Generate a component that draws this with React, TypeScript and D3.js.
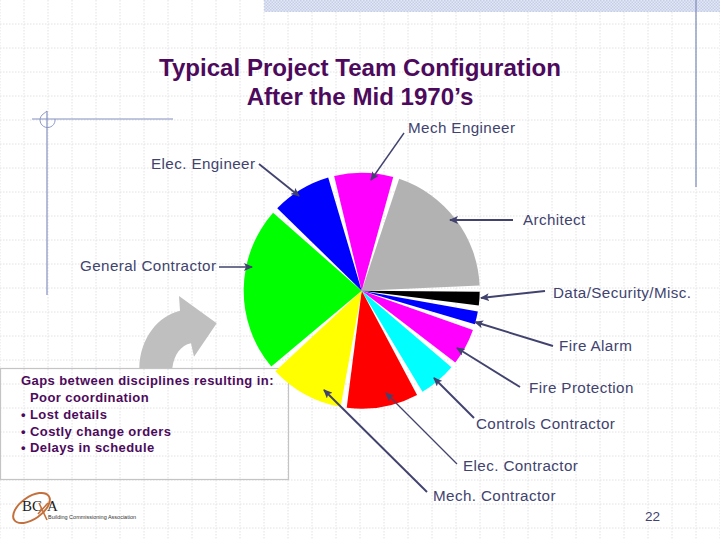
import React from "react";
import * as d3 from "d3";

// Pie data, clockwise from the grey slice (share of circle)
const sliceNames = ["Architect","Data/Security/Misc.","Fire Alarm","Fire Protection","Controls Contractor","Elec. Contractor","Mech. Contractor","General Contractor","Elec. Engineer","Mech Engineer"];
const sliceValues = [72, 9.7, 9.3, 21, 21.5, 38.3, 39.7, 84.3, 32.2, 32];
const sliceColors = ["#b2b2b2","#000000","#0000ff","#ff00ff","#00ffff","#ff0000","#ffff00","#00ff00","#0000ff","#ff00ff"];

const titleLines = ["Typical Project Team Configuration","After the Mid 1970\u2019s"];
const noteLines = ["Gaps between disciplines resulting in:","Poor coordination","Lost details","Costly change orders","Delays in schedule"];

// Callouts: label anchor, leader line from -> tip, leader width
const callouts: [string, number, number, number, number, number, number, number][] = [
  ["Mech Engineer", 408, 132.7, 404, 133, 371, 180, 1.4],
  ["Elec. Engineer", 151, 169, 259, 164, 299, 196, 1.9],
  ["Architect", 523, 224.7, 513, 220, 450, 220, 1.9],
  ["General Contractor", 80, 270.7, 219, 267, 252, 267, 1.3],
  ["Data/Security/Misc.", 553, 298, 545, 291, 481, 298, 1.9],
  ["Fire Alarm", 559, 350.8, 553, 346, 475, 322, 1.9],
  ["Fire Protection", 529, 392.7, 520, 387, 457, 348, 1.9],
  ["Controls Contractor", 476, 428.7, 474, 418, 434, 378, 1.9],
  ["Elec. Contractor", 463, 470.7, 457, 464, 386, 393, 1.3],
  ["Mech. Contractor", 433, 500.7, 427, 492, 324, 390, 1.9],
];

const W = 720, H = 540, CX = 361.7, CY = 290.7, R = 118;
const GAP = (3 * Math.PI) / 180;
const START = (17 * Math.PI) / 180;
const INK = "#41436e";
const PLUM = "#4d0a5c";
const SANS = "'Liberation Sans', Arial, sans-serif";

export default function App() {
  const pie = d3.pie<number>().sort(null).startAngle(START).endAngle(START + 2 * Math.PI)(sliceValues);
  const arc = d3.arc<{ startAngle: number; endAngle: number }>().innerRadius(0).outerRadius(R);
  const gridX = d3.range(0, W + 1, 24);
  const gridY = d3.range(24, H + 1, 24);
  return (
    <svg width={W} height={H} viewBox={`0 0 ${W} ${H}`} style={{ position: "absolute", left: 0, top: 0, background: "#fff" }}>
      <defs>
        <pattern id="hatch" width="3" height="3" patternUnits="userSpaceOnUse">
          <rect width="3" height="3" fill="#e4e8f4" />
          <rect width="1.5" height="1.5" fill="#c4cee8" />
          <rect x="1.5" y="1.5" width="1.5" height="1.5" fill="#c4cee8" />
        </pattern>
        <marker id="head" markerUnits="userSpaceOnUse" markerWidth="10" markerHeight="8" refX="8" refY="4" orient="auto" viewBox="0 0 10 8">
          <path d="M9,4 L0,0 L2,4 L0,8 Z" fill={INK} />
        </marker>
      </defs>
      <g stroke="#e2e2e2" strokeWidth={1} strokeDasharray="1.5 1.5">
        {gridX.map((x) => <line key={x} x1={x} x2={x} y1={0} y2={H} />)}
        {gridY.map((y) => <line key={y} x1={0} x2={W} y1={y} y2={y} />)}
      </g>
      <rect x={264} y={0} width={456} height={12} fill="url(#hatch)" />
      <g stroke="#8490c0" fill="none">
        <line x1={696} x2={696} y1={0} y2={187} strokeWidth={1.3} />
        <line x1={32} x2={173} y1={119} y2={119} strokeWidth={1.2} />
        <line x1={47} x2={47} y1={111} y2={295} strokeWidth={1.2} />
        <path d="M47,111 L42,115 A7.5,7.5 0 1 0 55,119" strokeWidth={0.9} />
      </g>

      <g fontFamily={SANS} fontWeight="bold" fontSize={24.1} fill={PLUM} textAnchor="middle">
        {titleLines.map((t, i) => <text key={t} x={360} y={76 + i * 28.5}>{t}</text>)}
      </g>

      <path d="M139.3,368 C140,338 158,316 180,310.7 L179,296 L216.7,323.3 L194,356.7 L191,343.3 C181,345 174,355 172.3,368 Z" fill="#bfbfbf" />
      <rect x={0.5} y={368.5} width={288} height={111} fill="none" stroke="#c4c4c4" strokeWidth={1.2} />

      <g transform={`translate(${CX},${CY})`}>
        {pie.map((d, i) => (
          <path key={sliceNames[i]} d={arc({ startAngle: d.startAngle + GAP / 2, endAngle: d.endAngle - GAP / 2 }) as string} fill={sliceColors[i]} />
        ))}
      </g>

      <g stroke={INK} fill="none">
        {callouts.map(([n, , , x1, y1, x2, y2, w]) => (
          <line key={n} x1={x1} y1={y1} x2={x2} y2={y2} strokeWidth={w} markerEnd="url(#head)" />
        ))}
      </g>
      <g fontFamily={SANS} fontSize={15.2} letterSpacing={0.4} fill={INK}>
        {callouts.map(([n, x, y]) => <text key={n} x={x} y={y}>{n}</text>)}
      </g>
      <text x={645} y={521} fontFamily={SANS} fontSize={13.5} fill={INK}>22</text>

      <g fontFamily={SANS} fontWeight="bold" fontSize={13} letterSpacing={0.42} fill={PLUM}>
        {noteLines.map((t, i) => {
          const y = [385, 402, 419, 436, 452][i];
          return (
            <g key={t}>
              {i >= 2 && <text x={21} y={y}>{"\u2022"}</text>}
              <text x={i === 0 ? 21 : 30} y={y}>{t}</text>
            </g>
          );
        })}
      </g>

      <ellipse cx={31.5} cy={508} rx={21} ry={11} transform="rotate(-35 31.5 508)" fill="none" stroke="#c4703c" strokeWidth={2} />
      <g fontFamily="'Liberation Serif', serif" fontSize={15} fill="#222">
        <text x={22} y={511}>BC</text>
        <text x={47} y={511}>A</text>
      </g>
      <path d="M39,503 L47,520 M48,503 L38,514" stroke="#c4703c" strokeWidth={1.6} fill="none" />
      <text x={48} y={519} fontFamily={SANS} fontSize={5.5} fill="#333">Building Commissioning Association</text>
    </svg>
  );
}
